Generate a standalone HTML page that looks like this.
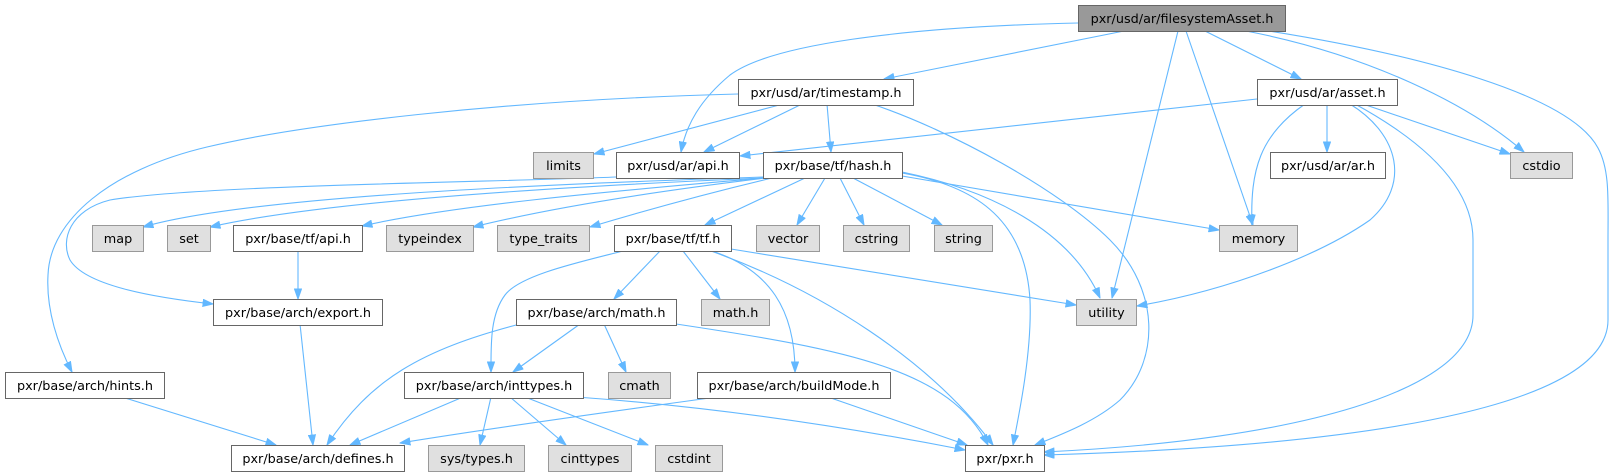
<!DOCTYPE html>
<html><head><meta charset="utf-8"><style>
html,body{margin:0;padding:0;background:#fff;}
svg{display:block;}
text{font-family:"DejaVu Sans","Liberation Sans",sans-serif;font-size:12.8px;fill:#000;text-anchor:middle;}
.e{fill:none;stroke:#63b8ff;stroke-width:1.1;marker-end:url(#ah);}
.w{fill:#fff;stroke:#666;stroke-width:1;}
.g{fill:#e0e0e0;stroke:#999;stroke-width:1;}
.r{fill:#999;stroke:#666;stroke-width:1;}
</style></head><body>
<svg width="1614" height="476" viewBox="0 0 1614 476" xmlns="http://www.w3.org/2000/svg">
<defs>
<marker id="ah" viewBox="0 0 11 8" refX="10.5" refY="4" markerWidth="11" markerHeight="8" markerUnits="userSpaceOnUse" orient="auto">
<path d="M0.5,0.5L10.5,4L0.5,7.5z" fill="#63b8ff" stroke="#63b8ff" stroke-width="1"/>
</marker>
</defs>
<!-- edges -->
<path class="e" d="M1078,23 C900,27 770,45 730,75 C700,100 686,125 681,152"/>
<path class="e" d="M1124,31 L884,79"/>
<path class="e" d="M1205,31 L1301,79"/>
<path class="e" d="M1246,31 C1370,55 1470,105 1524,152"/>
<path class="e" d="M1269,31 C1420,55 1570,95 1598,148 C1610,170 1608,200 1608,240 L1608,320 C1608,400 1400,445 1044,455"/>
<path class="e" d="M1178,31 L1112,298"/>
<path class="e" d="M1186,31 L1253,225"/>
<path class="e" d="M738,94 C500,100 300,125 207,147 C110,170 50,220 48,275 C46,310 58,345 72,372"/>
<path class="e" d="M783,104 L594,154"/>
<path class="e" d="M802,104 L704,152"/>
<path class="e" d="M827,104 L831,152"/>
<path class="e" d="M872,104 C950,130 1060,190 1110,240 C1160,290 1160,360 1120,400 C1095,422 1060,435 1035,445"/>
<path class="e" d="M1257,99 L740,156"/>
<path class="e" d="M1327,104 L1327,152"/>
<path class="e" d="M1363,104 L1510,154"/>
<path class="e" d="M1305,104 C1260,135 1250,170 1252,225"/>
<path class="e" d="M1350,104 C1400,135 1410,185 1370,220 C1320,255 1230,290 1137,306"/>
<path class="e" d="M1355,104 C1430,145 1473,190 1473,240 L1473,315 C1473,390 1300,440 1044,452"/>
<path class="e" d="M616,177 C500,182 200,185 110,200 C70,210 60,240 70,260 C85,285 150,297 213,304"/>
<path class="e" d="M763,177 C550,184 250,196 143,227"/>
<path class="e" d="M763,178 C550,187 320,202 210,227"/>
<path class="e" d="M764,178 C600,192 450,206 362,226"/>
<path class="e" d="M766,178 C650,192 550,208 473,227"/>
<path class="e" d="M772,178 C700,195 640,212 590,227"/>
<path class="e" d="M805,178 L705,225"/>
<path class="e" d="M825,178 L797,225"/>
<path class="e" d="M840,178 L864,225"/>
<path class="e" d="M853,178 L942,225"/>
<path class="e" d="M902,176 L1219,230"/>
<path class="e" d="M902,172 C990,190 1070,230 1100,298"/>
<path class="e" d="M902,173 C970,185 1025,215 1030,300 C1032,350 1020,410 1013,445"/>
<path class="e" d="M623,251 C580,262 520,275 505,295 C490,315 491,345 491,372"/>
<path class="e" d="M660,251 L614,299"/>
<path class="e" d="M683,251 L720,299"/>
<path class="e" d="M712,251 C770,270 795,310 795,372"/>
<path class="e" d="M711,251 C820,290 930,360 993,445"/>
<path class="e" d="M731,249 L1076,305"/>
<path class="e" d="M580,324 L513,372"/>
<path class="e" d="M604,324 L626,372"/>
<path class="e" d="M520,324 C420,350 370,380 327,445"/>
<path class="e" d="M676,324 C850,350 950,370 988,445"/>
<path class="e" d="M463,397 L350,445"/>
<path class="e" d="M491,397 L480,445"/>
<path class="e" d="M510,397 L566,445"/>
<path class="e" d="M525,397 L648,445"/>
<path class="e" d="M576,397 Q760,410 965,450"/>
<path class="e" d="M717,397 C600,413 480,430 400,443"/>
<path class="e" d="M828,397 L967,445"/>
<path class="e" d="M122,397 L276,445"/>
<path class="e" d="M300,324 L313,445"/>
<path class="e" d="M298,251 L298,299"/>

<!-- nodes -->
<!-- row 0 -->
<rect class="r" x="1078.5" y="5.5" width="207" height="26"/><text x="1182" y="22.8">pxr/usd/ar/filesystemAsset.h</text>
<!-- row 1 -->
<rect class="w" x="738.5" y="79.5" width="175" height="26"/><text x="826" y="96.8">pxr/usd/ar/timestamp.h</text>
<rect class="w" x="1257.5" y="79.5" width="140" height="26"/><text x="1327.5" y="96.8">pxr/usd/ar/asset.h</text>
<!-- row 2 -->
<rect class="g" x="533.5" y="152.5" width="60" height="26"/><text x="563.5" y="169.8">limits</text>
<rect class="w" x="616.5" y="152.5" width="123" height="26"/><text x="678" y="169.8">pxr/usd/ar/api.h</text>
<rect class="w" x="763.5" y="152.5" width="139" height="26"/><text x="833" y="169.8">pxr/base/tf/hash.h</text>
<rect class="w" x="1270.5" y="152.5" width="115" height="26"/><text x="1328" y="169.8">pxr/usd/ar/ar.h</text>
<rect class="g" x="1510.5" y="152.5" width="62" height="26"/><text x="1541.5" y="169.8">cstdio</text>
<!-- row 3 -->
<rect class="g" x="92.5" y="225.5" width="51" height="26"/><text x="118" y="242.8">map</text>
<rect class="g" x="167.5" y="225.5" width="43" height="26"/><text x="189" y="242.8">set</text>
<rect class="w" x="233.5" y="225.5" width="129" height="26"/><text x="298" y="242.8">pxr/base/tf/api.h</text>
<rect class="g" x="386.5" y="225.5" width="87" height="26"/><text x="430" y="242.8">typeindex</text>
<rect class="g" x="497.5" y="225.5" width="92" height="26"/><text x="543.5" y="242.8">type_traits</text>
<rect class="w" x="614.5" y="225.5" width="117" height="26"/><text x="673" y="242.8">pxr/base/tf/tf.h</text>
<rect class="g" x="756.5" y="225.5" width="63" height="26"/><text x="788" y="242.8">vector</text>
<rect class="g" x="843.5" y="225.5" width="66" height="26"/><text x="876.5" y="242.8">cstring</text>
<rect class="g" x="934.5" y="225.5" width="58" height="26"/><text x="963.5" y="242.8">string</text>
<rect class="g" x="1219.5" y="225.5" width="78" height="26"/><text x="1258.5" y="242.8">memory</text>
<!-- row 4 -->
<rect class="w" x="213.5" y="299.5" width="169" height="26"/><text x="298" y="316.8">pxr/base/arch/export.h</text>
<rect class="w" x="516.5" y="299.5" width="160" height="26"/><text x="596.5" y="316.8">pxr/base/arch/math.h</text>
<rect class="g" x="701.5" y="299.5" width="68" height="26"/><text x="735.5" y="316.8">math.h</text>
<rect class="g" x="1076.5" y="299.5" width="60" height="26"/><text x="1106.5" y="316.8">utility</text>
<!-- row 5 -->
<rect class="w" x="5.5" y="372.5" width="159" height="26"/><text x="85" y="389.8">pxr/base/arch/hints.h</text>
<rect class="w" x="404.5" y="372.5" width="179" height="26"/><text x="494" y="389.8">pxr/base/arch/inttypes.h</text>
<rect class="g" x="608.5" y="372.5" width="62" height="26"/><text x="639.5" y="389.8">cmath</text>
<rect class="w" x="697.5" y="372.5" width="193" height="26"/><text x="794" y="389.8">pxr/base/arch/buildMode.h</text>
<!-- row 6 -->
<rect class="w" x="231.5" y="445.5" width="173" height="26"/><text x="318" y="462.8">pxr/base/arch/defines.h</text>
<rect class="g" x="428.5" y="445.5" width="96" height="26"/><text x="476.5" y="462.8">sys/types.h</text>
<rect class="g" x="548.5" y="445.5" width="83" height="26"/><text x="590" y="462.8">cinttypes</text>
<rect class="g" x="655.5" y="445.5" width="67" height="26"/><text x="689" y="462.8">cstdint</text>
<rect class="w" x="965.5" y="445.5" width="79" height="26"/><text x="1005" y="462.8">pxr/pxr.h</text>
</svg>
</body></html>
